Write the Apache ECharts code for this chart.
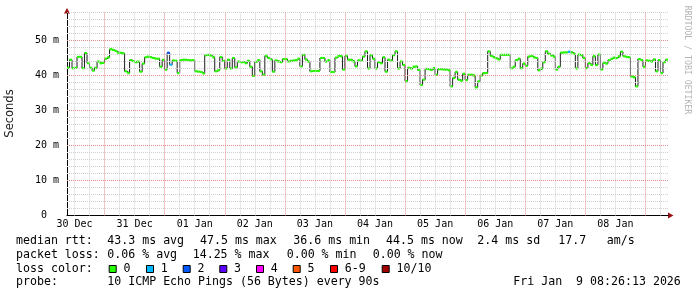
<!DOCTYPE html>
<html><head><meta charset="utf-8">
<script src="https://cdn.jsdelivr.net/npm/echarts@6/dist/echarts.min.js"></script>
<style>html,body{margin:0;padding:0;background:#fff}#c{width:697px;height:297px}</style>
</head><body><div id="c"></div>
<script>
// ---- data ----
const startHour = 9;      // hours after 30 Dec 00:00 where the plot starts
const endHour = 249;      // 10 days later
const dayLabels = ['30 Dec','31 Dec','01 Jan','02 Jan','03 Jan','04 Jan','05 Jan','06 Jan','07 Jan','08 Jan'];
const dayLabelHours = [12,36,60,84,108,132,156,180,204,228];   // noon of each day
const midnightHours = [24,48,72,96,120,144,168,192,216,240];
const yMajorTicks = [0,10,20,30,40,50];
// hourly median RTT in ms, starting at startHour
const medianRtt = [
42.2,44.5, 42.1,42.2, 45.3,45.3, 42.1,46.4, 43.5,42.2, 41.4,42.2, 44.0,43.5, 43.6,44.8,
45.2,47.5, 47.3,47.0, 46.5,46.5, 46.3,41.2, 40.7,44.4, 44.1,43.8, 44.0,41.1, 43.4,45.2,
45.4,45.2, 45.0,44.8, 44.8,42.5, 44.5,41.7, 46.5,43.1, 44.3,44.2, 40.7,44.4, 44.5,44.5,
44.4,44.3, 44.4,41.2, 41.1,41.0, 40.6,45.8, 45.9,45.7, 45.2,41.2, 41.5,45.3, 44.2,42.0,
44.5,42.0, 45.0,42.3, 44.0,43.8, 43.8,43.5, 44.2,42.5, 39.9,43.9, 44.4,41.2, 40.2,45.6,
45.0,44.6, 41.1,44.3, 44.0,43.8, 44.7,44.7, 44.0,44.2, 44.3,44.4, 44.8,42.6, 45.9,44.6,
44.0,41.2, 41.3,41.3, 41.3,45.0, 45.0,44.0, 44.4,41.0, 41.0,45.1, 45.6,45.5, 41.7,45.6,
44.5,44.5, 44.0,42.6, 44.3,44.3, 45.4,46.9, 42.0,45.8, 44.8,42.0, 43.8,43.5, 45.2,41.1,
44.5,44.3, 45.8,46.9, 42.0,44.0, 43.0,38.4, 42.2,42.0, 42.5,42.6, 41.6,37.3, 38.8,41.9,
41.8,41.6, 42.1,40.2, 41.8,41.8, 41.7,41.7, 41.5,36.9, 39.3,41.0, 38.8,38.5, 40.5,38.7,
40.2,40.2, 40.0,36.6, 38.3,40.0, 40.7,40.7, 46.9,45.6, 45.2,44.9, 44.6,45.9, 45.9,45.9,
45.9,42.1, 42.5,44.4, 44.8,42.1, 43.4,42.8, 45.4,45.6, 45.2,45.0, 41.5,42.0, 43.8,46.9,
46.2,45.7, 45.4,41.7, 42.5,46.5, 46.6,46.6, 46.8,46.6, 46.2,42.0, 46.0,45.8, 45.0,42.1,
43.5,43.0, 45.5,43.0, 46.0,41.7, 43.6,43.4, 44.4,44.8, 45.1,45.0, 45.5,46.8, 45.5,45.3,
45.2,39.7, 39.5,36.9, 44.7,44.4, 42.5,44.3, 44.2,44.0, 44.6,41.2, 44.4,40.7, 43.8,44.5
];
// hours with packet loss -> index into lossColors
const lossEvents = [[49,2],[50,1],[209,1]];
const lossNames = ['0','1','2','3','4','5','6-9','10/10'];
const lossColors = ['#26ff00','#00b8ff','#0059ff','#5e00ff','#ff00ff','#ff5500','#ff0000','#a00000'];
const rttStats = ['43.3 ms avg','47.5 ms max','36.6 ms min','44.5 ms now','2.4 ms sd','17.7','am/s'];
const lossStats = ['0.06 % avg','14.25 % max','0.00 % min','0.00 % now'];
const probeText = '10 ICMP Echo Pings (56 Bytes) every 90s';
const stampText = 'Fri Jan  9 08:26:13 2026';

// ---- build ----
const lossMap = {}; lossEvents.forEach(e => lossMap[e[0]] = e[1]);
const stepData = medianRtt.map((v,i) => [startHour + i, v]);
stepData.push([endHour, medianRtt[medianRtt.length-1]]);
const segData = medianRtt.map((v,i) => [startHour + i, v, lossMap[startHour + i] || 0]);

const minorX = []; for (let h = 12; h < endHour; h += 6) if (midnightHours.indexOf(h) < 0) minorX.push(h);
const minorY = []; for (let v = 2; v <= 58; v += 2) if (v % 10 !== 0) minorY.push(v);
const gridMinor = {color:'#cfcfcf', type:[1,1], width:1};
const gridMajor = {color:'#e58c8c', type:[1,1], width:1};
const mlData = []
  .concat(minorX.map(h => ({xAxis:h, lineStyle:gridMinor})))
  .concat(minorY.map(v => ({yAxis:v, lineStyle:gridMinor})))
  .concat(midnightHours.map(h => ({xAxis:h, lineStyle:gridMajor})))
  .concat(yMajorTicks.filter(v => v > 0).map(v => ({yAxis:v, lineStyle:gridMajor})));

const MONO = 'DejaVu Sans Mono';
const FS = 11.6;
function txt(s, x, y, extra) {
  return Object.assign({type:'text', x:x, y:y, silent:true,
    style:{text:s, font:FS+'px "'+MONO+'"', fill:'#000', textVerticalAlign:'middle', verticalAlign:'middle'}}, extra||{});
}
const rows = [241.3, 255.1, 268.6, 282.4];
const rttX = [107.3, 200, 293.3, 386, 477.3, 558.3, 606.7];
const lossX = [107.3, 192.7, 286.7, 372.7];
const boxX = [108.7, 146, 182.7, 219.3, 256, 292.7, 330, 381.7];
const graphics = [];
graphics.push(txt('median rtt:', 16, rows[0]));
rttStats.forEach((s,i) => graphics.push(txt(s, rttX[i], rows[0])));
graphics.push(txt('packet loss:', 16, rows[1]));
lossStats.forEach((s,i) => graphics.push(txt(s, lossX[i], rows[1])));
graphics.push(txt('loss color:', 16, rows[2]));
lossNames.forEach((n,i) => {
  graphics.push({type:'rect', silent:true, shape:{x:boxX[i]+0.5, y:265.5, width:7, height:7},
    style:{fill:lossColors[i], stroke:'#000', lineWidth:1}});
  graphics.push(txt(n, boxX[i]+14.8, rows[2]));
});
graphics.push(txt('probe:', 16, rows[3]));
graphics.push(txt(probeText, 107.3, rows[3]));
graphics.push(txt(stampText, 513.3, rows[3]));
// axis title and watermark
graphics.push({type:'text', x:10.5, y:113.5, rotation:Math.PI/2, silent:true,
  style:{text:'Seconds', font:'11.5px "DejaVu Sans"', fill:'#222', textAlign:'center', align:'center', textVerticalAlign:'middle', verticalAlign:'middle'}});
graphics.push({type:'text', x:687.5, y:60, rotation:-Math.PI/2, silent:true,
  style:{text:'RRDTOOL / TOBI OETIKER', font:'8.2px "'+MONO+'"', fill:'#b4b4b4', textAlign:'center', align:'center', textVerticalAlign:'middle', verticalAlign:'middle'}});
// axis arrows
graphics.push({type:'polygon', silent:true, shape:{points:[[64,13.5],[70,13.5],[67,8]]}, style:{fill:'#9a1010'}});
graphics.push({type:'polygon', silent:true, shape:{points:[[668,212.5],[668,218.5],[673.5,215.5]]}, style:{fill:'#9a1010'}});

const chart = echarts.init(document.getElementById('c'), null, {renderer:'canvas'});
chart.setOption({
  animation:false,
  backgroundColor:'#fff',
  grid:{left:67, top:12.5, width:601, height:203, containLabel:false},
  xAxis:{type:'value', min:startHour, max:endHour, interval:3,
    axisLine:{show:true, lineStyle:{color:'#000', width:1}},
    axisTick:{show:false}, splitLine:{show:false},
    axisLabel:{show:true, margin:4, color:'#000', fontFamily:MONO, fontSize:10,
      showMinLabel:true, showMaxLabel:true,
      formatter:function(v){ const i = dayLabelHours.indexOf(Math.round(v)); return i >= 0 ? dayLabels[i] : ''; }}},
  yAxis:{type:'value', min:0, max:58, interval:10,
    axisLine:{show:true, lineStyle:{color:'#000', width:1}},
    axisTick:{show:false}, splitLine:{show:false},
    axisLabel:{show:true, margin:8, color:'#000', fontFamily:MONO, fontSize:10, showMaxLabel:false,
      formatter:function(v){ return yMajorTicks.indexOf(v) < 0 ? '' : (v === 0 ? '0  ' : v + ' m'); }}},
  graphic:graphics,
  series:[
    {type:'line', data:[], z:1, silent:true,
      markLine:{silent:true, symbol:['none','none'], label:{show:false}, animation:false, data:mlData}},
    {type:'line', step:'end', data:stepData, showSymbol:false, symbol:'none', z:2, silent:true,
      lineStyle:{color:'#1c1c1c', width:1}},
    {type:'custom', data:segData, z:3, silent:true,
      renderItem:function(params, api){
        const h = api.value(0), v = api.value(1), l = api.value(2);
        const p0 = api.coord([h, v]), p1 = api.coord([h + 1, v]);
        return {type:'line', shape:{x1:p0[0], y1:p0[1], x2:p1[0], y2:p1[1]},
          style:{stroke:lossColors[l], lineWidth:2.2}};
      }}
  ]
});
</script></body></html>
